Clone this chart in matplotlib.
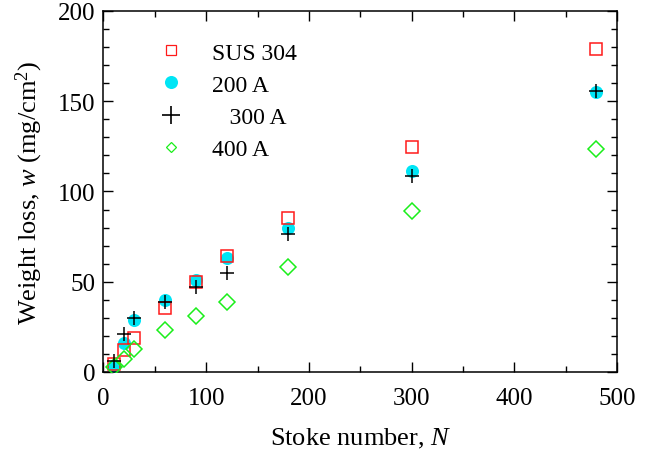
import matplotlib
matplotlib.use("Agg")
import matplotlib.pyplot as plt
from matplotlib.lines import Line2D
from matplotlib.ticker import MultipleLocator

plt.rcParams['font.family'] = 'Liberation Serif'
plt.rcParams['mathtext.fontset'] = 'custom'
plt.rcParams['mathtext.rm'] = 'Liberation Serif'
plt.rcParams['mathtext.it'] = 'Liberation Serif:italic'
plt.rcParams['font.size'] = 17

# stroke number and weight loss (mg/cm^2) for each material
stroke = [10, 20, 30, 60, 90, 120, 180, 300, 480]
sus304 = [4.4, 12, 19, 35.5, 50, 64.5, 85.5, 124.5, 179]
a200 = [3.5, 16, 29, 40, 51, 63, 80, 111.5, 155]
a300 = [6.3, 21, 30, 39, 47, 55, 76.5, 108.5, 155.5]
a400 = [2.6, 7.2, 12.7, 23, 31, 39, 58, 89, 123.5]

labels = ['SUS 304', '200 A', '   300 A', '400 A']

red = '#ff1a1a'
cyan = '#00e5f5'
green = '#1aee1a'

fig = plt.figure(figsize=(6.48, 4.52), dpi=100)
ax = fig.add_axes([0.1597, 0.1748, 0.7925, 0.7987])

ax.plot(stroke, a200, 'o', color=cyan, ms=9.4, mec='none', zorder=2)
ax.plot(stroke, sus304, 's', mfc='none', mec=red, ms=8.6, mew=1.1, zorder=3)
ax.plot(stroke, a300, '+', color='black', ms=10.5, mew=1.1, zorder=4)
ax.plot(stroke, a400, 'D', mfc='none', mec=green, ms=8.5, mew=1.1, zorder=3)

handles = [
    Line2D([], [], ls='none', marker='s', mfc='none', mec=red, ms=6.5, mew=0.9),
    Line2D([], [], ls='none', marker='o', color=cyan, mec='none', ms=9.4),
    Line2D([], [], ls='none', marker='+', color='black', ms=13, mew=1.2),
    Line2D([], [], ls='none', marker='D', mfc='none', mec=green, ms=5.6, mew=0.9),
]
ax.legend(handles, labels, loc='upper left', bbox_to_anchor=(0.09, 0.94),
          frameon=False, handlelength=1.0, handletextpad=1.25,
          labelspacing=0.45, borderaxespad=0.0)

ax.set_xlim(0, 500)
ax.set_ylim(0, 200)
ax.xaxis.set_major_locator(MultipleLocator(100))
ax.xaxis.set_minor_locator(MultipleLocator(50))
ax.yaxis.set_major_locator(MultipleLocator(50))
ax.yaxis.set_minor_locator(MultipleLocator(10))
ax.tick_params(which='both', direction='in', top=True, right=True, width=1.0,
               labelsize=18)
ax.tick_params(which='major', length=7)
ax.tick_params(which='minor', length=4)
ax.tick_params(axis='x', which='major', pad=11)
ax.tick_params(axis='y', which='major', pad=6)
for sp in ax.spines.values():
    sp.set_linewidth(1.1)

ax.set_xlabel('Stoke number, $N$', fontsize=19, labelpad=12)
ax.set_ylabel('Weight loss, $w$ (mg/cm$^2$)', fontsize=19, labelpad=9)

fig.savefig('out.png', dpi=100)
